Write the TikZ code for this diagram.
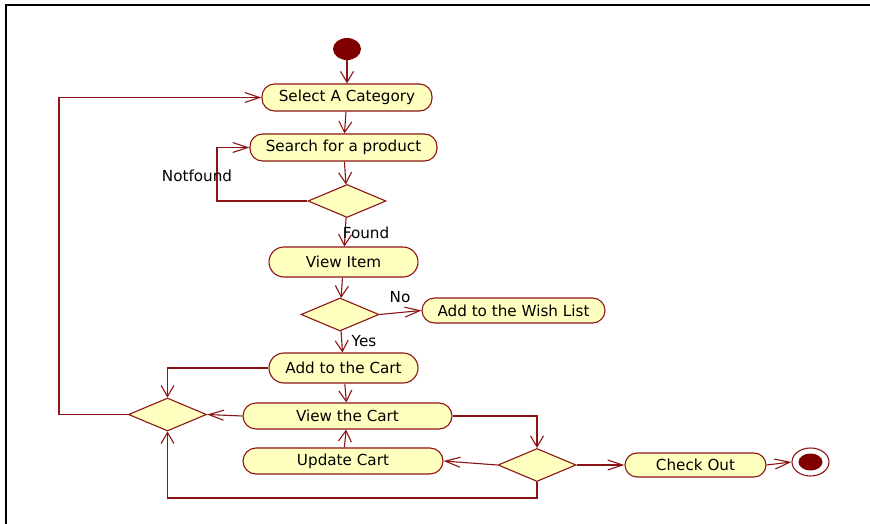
\documentclass[tikz,border=0pt]{standalone}
\usepackage{fontspec}
\setmainfont{DejaVu Sans}
\usetikzlibrary{shapes.geometric,arrows.meta}
\definecolor{umlline}{RGB}{140,20,20}
\definecolor{umlfill}{RGB}{255,255,192}
\definecolor{umldot}{RGB}{128,0,0}
\tikzset{
  act/.style={draw=umlline, fill=umlfill, line width=1.1pt, rounded corners=12.5pt,
    inner sep=0pt, font=\fontsize{15.2}{17}\selectfont},
  choice/.style={draw=umlline, fill=umlfill, line width=1.1pt, diamond,
    inner sep=0pt, minimum width=78pt, minimum height=33pt},
  flow/.style={draw=umlline, line width=1.1pt},
  harrow/.style={flow, -{Straight Barb[length=15pt,width=10pt,line width=1.1pt]}},
  varrow/.style={flow, -{Straight Barb[length=11pt,width=13pt,line width=1.1pt]}},
  guard/.style={font=\fontsize{15.2}{17}\selectfont, inner sep=0pt},
}
\begin{document}
\begin{tikzpicture}[x=1pt,y=-1pt]
\useasboundingbox (0,0) rectangle (870,524);
% frame
\draw[line width=2pt] (6,524) -- (6,5.5) -- (870,5.5);

% start and end
\node[ellipse, fill=umldot, minimum width=28pt, minimum height=22pt, inner sep=0pt] (start) at (347,49) {};
\node[ellipse, draw=umlline, fill=white, line width=1.1pt, minimum width=37pt, minimum height=28pt, inner sep=0pt] (end) at (810.5,462) {};
\node[ellipse, fill=umldot, minimum width=24pt, minimum height=17pt, inner sep=0pt] (endcore) at (810.5,462) {};

% activities
\node[act, minimum width=170pt, minimum height=27pt] (sel) at (347,97.5) {Select A Category};
\node[act, minimum width=187pt, minimum height=27pt] (search) at (343.5,147.5) {Search for a product};
\node[act, minimum width=149pt, minimum height=30pt, rounded corners=15pt] (item) at (343.5,262) {View Item};
\node[act, minimum width=183pt, minimum height=25pt] (wish) at (513.5,310.5) {Add to the Wish List};
\node[act, minimum width=149pt, minimum height=30pt, rounded corners=15pt] (cart) at (343.5,368) {Add to the Cart};
\node[act, minimum width=209pt, minimum height=26pt, rounded corners=13pt] (viewcart) at (347.5,416) {View the Cart};
\node[act, minimum width=200pt, minimum height=26pt, rounded corners=13pt] (update) at (343,461) {Update Cart};
\node[act, minimum width=141pt, minimum height=24pt, rounded corners=12pt] (checkout) at (695.5,465) {Check Out};

% decisions
\node[choice] (d1) at (347,201) {};
\node[choice] (d2) at (340,314.5) {};
\node[choice] (dl) at (167.5,414.5) {};
\node[choice] (dr) at (537,465) {};

% bends
\coordinate (nf) at (217,201);
\coordinate (lb) at (167.5,498);
\coordinate (lx) at (59,414.5);

% connectors
\draw[varrow] (start) -- (sel);
\draw[varrow] (sel) -- (search);
\draw[varrow] (search) -- (d1);
\draw[harrow] (d1.west) -- (nf) |- (search.west);
\draw[varrow] (d1) -- (item);
\draw[varrow] (item) -- (d2);
\draw[harrow] (d2.east) -- (wish.west);
\draw[varrow] (d2) -- (cart);
\draw[varrow] (cart) -- (viewcart);
\draw[varrow] (cart.west) -| (dl.north);
\draw[harrow] (viewcart.west) -- (dl.east);
\draw[varrow] (viewcart.east) -| (dr.north);
\draw[harrow] (dr.west) -- (update.east);
\draw[varrow] (update) -- (viewcart);
\draw[varrow] (dr.south) |- (lb) -- (dl.south);
\draw[harrow] (dl.west) -- (lx) |- (sel.west);
\draw[harrow] (dr.east) -- (checkout.west);
\draw[harrow] (checkout.east) -- (end.west);

% guards
\node[guard] (gnf) at (197,176) {Notfound};
\node[guard] (gfound) at (366,233) {Found};
\node[guard] (gno) at (400,297) {No};
\node[guard] (gyes) at (364,341) {Yes};
\end{tikzpicture}
\end{document}
